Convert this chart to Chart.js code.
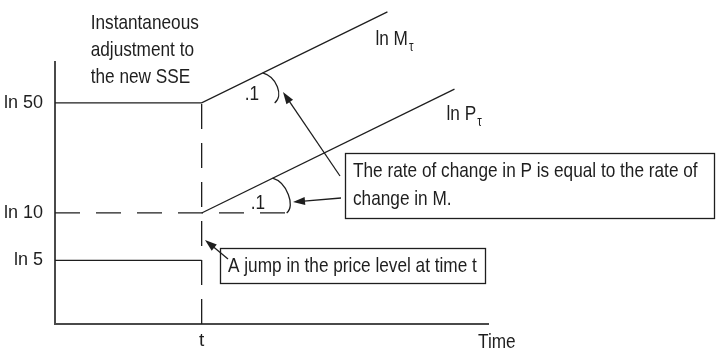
<!DOCTYPE html>
<html>
<head>
<meta charset="utf-8">
<script src="https://cdn.jsdelivr.net/npm/chart.js@4.4.1/dist/chart.umd.min.js"></script>
<style>
  html, body { margin: 0; padding: 0; background: #fff; }
  #wrap { width: 716px; height: 350px; position: relative; }
</style>
</head>
<body>
<div id="wrap"><canvas id="sseChart"></canvas></div>
<script>
// axis levels (natural logs)
var levelLabels = ['ln 5', 'ln 10', 'ln 50'];
var levelValues = [1.609, 2.303, 3.912];
var xRange = [0, 31];
var yRange = [0.68, 4.51];

// time of the jump
var jumpTime = 10.5;
var jumpLabel = 't';
var timeLabel = 'Time';
var rateLabel = '.1';

// ln M path
var lnMTimes  = [0, 10.5, 23.8];
var lnMValues = [3.912, 3.912, 5.242];

// ln P path after the jump
var lnPTimes  = [10.5, 28.6];
var lnPValues = [2.303, 4.113];

// old ln P level (dashed) and ln 5 level
var oldPTimes  = [0, 16.6];
var oldPValues = [2.303, 2.303];
var ln5Times  = [0, 10.5];
var ln5Values = [1.609, 1.609];

// vertical dashed line at t
var jumpLineValues = [0.68, 3.912];

var FONT = "'Liberation Sans', Arial, sans-serif";
var INK = '#1e1e1e';
var NARROW = 0.82;   // fake a condensed face

function pts(xs, ys) {
    return xs.map(function (x, i) { return { x: x, y: ys[i] }; });
}

// condensed text, left aligned, middle baseline
function txt(ctx, s, x, y, size) {
    ctx.save();
    ctx.font = (size || 21) + 'px ' + FONT;
    ctx.textAlign = 'left';
    ctx.textBaseline = 'middle';
    ctx.translate(x, y);
    ctx.scale(NARROW, 1);
    ctx.fillText(s, 0, 0);
    var w = ctx.measureText(s).width * NARROW;
    ctx.restore();
    return w;
}

function arrow(ctx, x1, y1, x2, y2) {
    var a = Math.atan2(y2 - y1, x2 - x1);
    ctx.beginPath();
    ctx.moveTo(x1, y1);
    ctx.lineTo(x2 - 8 * Math.cos(a), y2 - 8 * Math.sin(a));
    ctx.stroke();
    ctx.beginPath();
    ctx.moveTo(x2, y2);
    ctx.lineTo(x2 - 12 * Math.cos(a) + 4 * Math.sin(a), y2 - 12 * Math.sin(a) - 4 * Math.cos(a));
    ctx.lineTo(x2 - 12 * Math.cos(a) - 4 * Math.sin(a), y2 - 12 * Math.sin(a) + 4 * Math.cos(a));
    ctx.closePath();
    ctx.fill();
}

function bulge(ctx, v, ang, r1, r2, k) {
    var ax = v.x + r1 * Math.cos(ang), ay = v.y - r1 * Math.sin(ang);
    var bx = v.x + r2, by = v.y;
    ctx.beginPath();
    ctx.moveTo(ax, ay);
    ctx.bezierCurveTo(ax + k, ay + 4, bx + k * 0.65, by - 7, bx, by);
    ctx.stroke();
}

var notes = {
    id: 'notes',
    afterDatasetsDraw: function (chart) {
        var ctx = chart.ctx;
        var xs = chart.scales.x, ys = chart.scales.y;
        var vx = xs.getPixelForValue(jumpTime);
        var vM = { x: vx, y: ys.getPixelForValue(levelValues[2]) };
        var vP = { x: vx, y: ys.getPixelForValue(levelValues[1]) };
        var mEnd = { x: xs.getPixelForValue(lnMTimes[2]), y: ys.getPixelForValue(lnMValues[2]) };
        var pEnd = { x: xs.getPixelForValue(lnPTimes[1]), y: ys.getPixelForValue(lnPValues[1]) };
        var ang = Math.atan2(vM.y - mEnd.y, mEnd.x - vM.x);

        ctx.save();
        ctx.strokeStyle = INK;
        ctx.fillStyle = INK;
        ctx.lineWidth = 1.3;

        // angle marks
        bulge(ctx, vM, ang, 68, 73, 14);
        bulge(ctx, vP, ang, 79, 85, 14);
        txt(ctx, rateLabel, vM.x + 43, vM.y - 9);
        txt(ctx, rateLabel, vP.x + 49, vP.y - 10);

        ['Instantaneous', 'adjustment to', 'the new SSE'].forEach(function (s, i) {
            txt(ctx, s, vx - 111, 23 + i * 27);
        });

        var w = txt(ctx, 'ln M', mEnd.x - 12, mEnd.y + 27);
        txt(ctx, '\u03c4', mEnd.x - 12 + w + 1, mEnd.y + 35, 14);
        w = txt(ctx, 'ln P', pEnd.x - 8, pEnd.y + 25);
        txt(ctx, '\u03c4', pEnd.x - 8 + w + 1, pEnd.y + 33, 14);

        // callout boxes
        ctx.strokeRect(345.5, 153.5, 369, 65);
        txt(ctx, 'The rate of change in P is equal to the rate of', 353, 171);
        txt(ctx, 'change in M.', 353, 199);

        var jw = txt(ctx, 'A jump in the price level at time t', 228, 266);
        ctx.strokeRect(220.5, 248.5, Math.round(jw) + 16, 35);

        arrow(ctx, 340, 176, 283, 92);
        arrow(ctx, 341, 198, 293, 202);
        arrow(ctx, 228, 259, 205, 240);

        txt(ctx, timeLabel, xs.right - 10, 342);
        ctx.restore();
    }
};

var lineStyle = { borderColor: INK, borderWidth: 1.3, pointRadius: 0, tension: 0, fill: false, clip: false };

new Chart(document.getElementById('sseChart'), {
    type: 'line',
    data: {
        datasets: [
            Object.assign({ data: pts(lnMTimes, lnMValues) }, lineStyle),
            Object.assign({ data: pts(lnPTimes, lnPValues) }, lineStyle),
            Object.assign({ data: pts(oldPTimes, oldPValues), borderDash: [25, 16] }, lineStyle),
            Object.assign({ data: pts(ln5Times, ln5Values) }, lineStyle),
            Object.assign({ data: pts([jumpTime, jumpTime], jumpLineValues), borderDash: [25, 14] }, lineStyle)
        ]
    },
    options: {
        responsive: true,
        maintainAspectRatio: false,
        animation: false,
        layout: { padding: { top: 62, right: 228, left: 0, bottom: 0 } },
        plugins: { legend: { display: false }, tooltip: { enabled: false } },
        scales: {
            x: {
                type: 'linear',
                min: xRange[0],
                max: xRange[1],
                grid: { display: false, drawTicks: false },
                border: { display: true, color: '#4a4a4a', width: 2 },
                afterBuildTicks: function (s) { s.ticks = [{ value: jumpTime }]; },
                afterFit: function (s) { s.height = 26; },
                ticks: {
                    padding: 5,
                    color: INK,
                    font: { family: FONT, size: 19 },
                    callback: function () { return jumpLabel; }
                }
            },
            y: {
                type: 'linear',
                min: yRange[0],
                max: yRange[1],
                grid: { display: false, drawTicks: false },
                border: { display: true, color: '#4a4a4a', width: 2 },
                afterBuildTicks: function (s) {
                    s.ticks = levelValues.map(function (v) { return { value: v }; });
                },
                afterFit: function (s) { s.width = 55; },
                ticks: {
                    padding: 12,
                    color: INK,
                    font: { family: FONT, size: 18 },
                    callback: function (v) { return levelLabels[levelValues.indexOf(v)]; }
                }
            }
        }
    },
    plugins: [notes]
});
</script>
</body>
</html>
